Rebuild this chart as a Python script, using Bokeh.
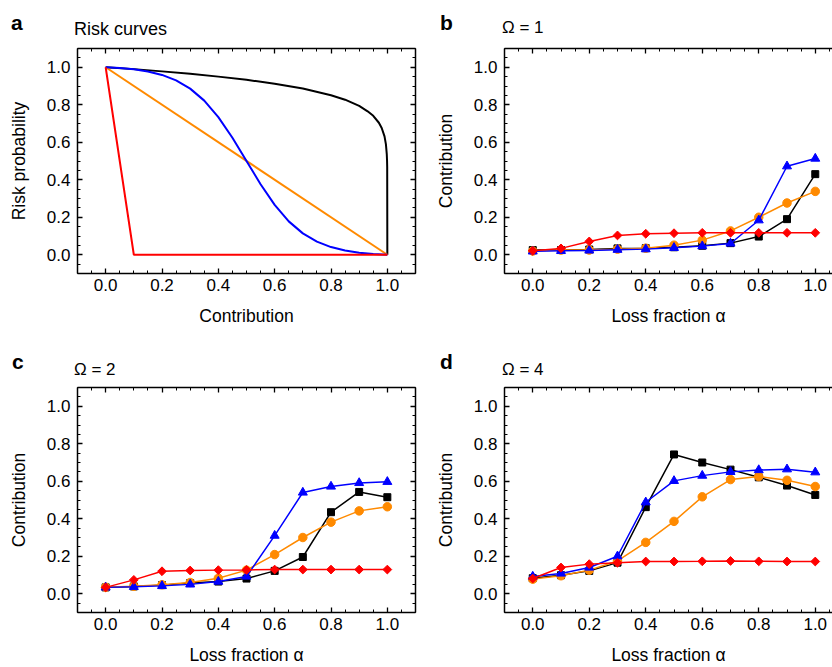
from bokeh.plotting import figure
from bokeh.models import LinearAxis, FixedTicker, Range1d, Div
from bokeh.layouts import column, row
from bokeh.embed import file_html
from bokeh.resources import INLINE
import numpy as np

# ---------------- data ----------------
TICKS = [0.0, 0.2, 0.4, 0.6, 0.8, 1.0]
TICK_LABELS = ["0.0", "0.2", "0.4", "0.6", "0.8", "1.0"]
MINOR_TICKS = [-0.1, -0.05, 0.05, 0.1, 0.15, 0.25, 0.3, 0.35, 0.45, 0.5, 0.55,
               0.65, 0.7, 0.75, 0.85, 0.9, 0.95, 1.05, 1.1]

# panel a: risk curves
A_BLACK_X = [0.0, 0.1, 0.2, 0.3, 0.4, 0.5, 0.6, 0.7, 0.8, 0.85, 0.9, 0.93, 0.95,
             0.97, 0.98, 0.99, 0.995, 0.998, 0.999, 0.9995, 1.0]
A_BLACK_Y = [1.0, 0.99, 0.978, 0.965, 0.95, 0.933, 0.912, 0.887, 0.851, 0.827,
             0.794, 0.765, 0.741, 0.704, 0.676, 0.631, 0.589, 0.537, 0.501, 0.467, 0.0]
A_ORANGE_X = [0.0, 1.0]
A_ORANGE_Y = [1.0, 0.0]
A_BLUE_X = [0.0, 0.05, 0.1, 0.15, 0.2, 0.25, 0.3, 0.35, 0.4, 0.45, 0.5, 0.55, 0.6,
            0.65, 0.7, 0.75, 0.8, 0.85, 0.9, 0.95, 1.0]
A_BLUE_Y = [1.0, 0.996, 0.989, 0.977, 0.959, 0.93, 0.886, 0.822, 0.734, 0.624, 0.5,
            0.376, 0.266, 0.178, 0.114, 0.07, 0.041, 0.023, 0.011, 0.004, 0.0]
A_RED_X = [0.0, 0.1, 1.0]
A_RED_Y = [1.0, 0.0, 0.0]

# panels b-d: contribution vs loss fraction
ALPHA = [0.0, 0.1, 0.2, 0.3, 0.4, 0.5, 0.6, 0.7, 0.8, 0.9, 1.0]

B_BLACK = [0.025, 0.025, 0.028, 0.034, 0.035, 0.040, 0.048, 0.062, 0.097, 0.190, 0.430]
B_ORANGE = [0.020, 0.025, 0.025, 0.030, 0.035, 0.051, 0.078, 0.127, 0.200, 0.276, 0.338]
B_BLUE = [0.018, 0.021, 0.023, 0.027, 0.030, 0.037, 0.046, 0.060, 0.184, 0.472, 0.513]
B_RED = [0.021, 0.034, 0.071, 0.103, 0.112, 0.115, 0.117, 0.117, 0.117, 0.117, 0.117]

C_BLACK = [0.034, 0.039, 0.046, 0.057, 0.065, 0.081, 0.122, 0.196, 0.435, 0.543, 0.515]
C_ORANGE = [0.035, 0.040, 0.048, 0.060, 0.083, 0.126, 0.209, 0.300, 0.382, 0.442, 0.464]
C_BLUE = [0.034, 0.037, 0.042, 0.050, 0.065, 0.092, 0.310, 0.540, 0.572, 0.591, 0.597]
C_RED = [0.034, 0.074, 0.120, 0.124, 0.126, 0.127, 0.129, 0.129, 0.129, 0.129, 0.129]

D_BLACK = [0.083, 0.099, 0.122, 0.166, 0.462, 0.743, 0.700, 0.662, 0.621, 0.577, 0.527]
D_ORANGE = [0.078, 0.096, 0.126, 0.175, 0.274, 0.386, 0.517, 0.609, 0.625, 0.605, 0.572]
D_BLUE = [0.092, 0.108, 0.140, 0.200, 0.488, 0.602, 0.630, 0.650, 0.660, 0.664, 0.648]
D_RED = [0.081, 0.140, 0.158, 0.165, 0.172, 0.172, 0.173, 0.175, 0.173, 0.172, 0.172]

BLACK = "#000000"
ORANGE = "#FF8A00"
BLUE = "#0000FF"
RED = "#FF0000"
FONT = "Liberation Sans"

FRAME_H = 225
Y0, Y1 = -0.1, 1.1


def style_axis(ax, labels=True, standoff=7):
    ax.ticker = FixedTicker(ticks=TICKS, minor_ticks=MINOR_TICKS)
    ax.major_label_overrides = {t: l for t, l in zip(TICKS, TICK_LABELS)}
    ax.axis_line_width = 1.5
    ax.axis_line_color = "black"
    ax.major_tick_in = 5
    ax.major_tick_out = 0
    ax.minor_tick_in = 3
    ax.minor_tick_out = 0
    ax.major_tick_line_width = 1.3
    ax.minor_tick_line_width = 1.0
    ax.major_tick_line_color = "black"
    ax.minor_tick_line_color = "black"
    ax.major_label_text_font = FONT
    ax.major_label_text_font_size = "17px"
    ax.major_label_text_color = "black"
    ax.major_label_standoff = standoff
    ax.axis_label_text_font = FONT
    ax.axis_label_text_font_size = "17.5px"
    ax.axis_label_text_font_style = "normal"
    ax.axis_label_text_color = "black"
    if not labels:
        ax.major_label_text_font_size = "0px"
        ax.major_label_text_color = None
        ax.major_label_standoff = 0


def header(width, height, letter, lx, ltop, title, tx, ttop, tsize):
    html = (
        f'<div style="position:relative;width:{width}px;height:{height}px;overflow:visible;">'
        f'<span style="position:absolute;left:{lx}px;top:{ltop}px;font-family:\'Liberation Sans\';'
        f'font-size:21px;font-weight:bold;line-height:1;color:#000;">{letter}</span>'
        f'<span style="position:absolute;left:{tx}px;top:{ttop}px;font-family:\'Liberation Sans\';'
        f'font-size:{tsize}px;line-height:1;color:#000;white-space:nowrap;">{title}</span></div>'
    )
    return Div(text=html, width=width, height=height, margin=(0, 0, 0, 0))


def make_panel(width, height, border_left, border_right, border_top, x_end,
               xlabel, ylabel, right_axis=True):
    border_bottom = height - border_top - FRAME_H
    p = figure(width=width, height=height,
               x_range=Range1d(-0.1, x_end), y_range=Range1d(Y0, Y1),
               output_backend="svg", toolbar_location=None,
               min_border_left=border_left, min_border_right=border_right,
               min_border_top=border_top, min_border_bottom=border_bottom,
               margin=(0, 0, 0, 0))
    p.outline_line_color = None
    p.xgrid.visible = False
    p.ygrid.visible = False
    p.background_fill_color = "white"
    p.border_fill_color = "white"
    style_axis(p.xaxis[0], standoff=5)
    style_axis(p.yaxis[0], standoff=7)
    p.xaxis[0].axis_label = xlabel
    p.yaxis[0].axis_label = ylabel
    p.xaxis[0].axis_label_standoff = 12
    p.yaxis[0].axis_label_standoff = 15
    top = LinearAxis()
    style_axis(top, labels=False)
    p.add_layout(top, "above")
    if right_axis:
        rt = LinearAxis()
        style_axis(rt, labels=False)
        p.add_layout(rt, "right")
    return p


def add_series(p, ys_list):
    black, orange, blue, red = ys_list
    p.line(ALPHA, black, line_color=BLACK, line_width=1.5)
    p.scatter(ALPHA, black, marker="square", size=7, fill_color=BLACK, line_color=BLACK)
    p.line(ALPHA, orange, line_color=ORANGE, line_width=1.5)
    p.scatter(ALPHA, orange, marker="circle", size=8.5, fill_color=ORANGE, line_color=ORANGE)
    p.line(ALPHA, blue, line_color=BLUE, line_width=1.5)
    p.scatter(ALPHA, blue, marker="triangle", size=9, fill_color=BLUE, line_color=BLUE)
    p.line(ALPHA, red, line_color=RED, line_width=1.5)
    p.scatter(ALPHA, red, marker="square", angle=np.pi / 4, size=6.2,
              fill_color=RED, line_color=RED)


# ---------------- row 1 ----------------
ha = header(420, 40, "a", 11, 12, "Risk curves", 74, 20, 18)
pa = make_panel(420, 290, 77, 5, 8, 1.1, "Contribution", "Risk probability")
pa.line(A_BLACK_X, A_BLACK_Y, line_color=BLACK, line_width=2)
pa.line(A_ORANGE_X, A_ORANGE_Y, line_color=ORANGE, line_width=2)
pa.line(A_BLUE_X, A_BLUE_Y, line_color=BLUE, line_width=2)
pa.line(A_RED_X, A_RED_Y, line_color=RED, line_width=2)

hb = header(412, 40, "b", 20, 12, "Ω = 1", 82, 19, 17)
pb = make_panel(412, 290, 84, 0, 8, 1.061, "Loss fraction α", "Contribution",
                right_axis=False)
add_series(pb, [B_BLACK, B_ORANGE, B_BLUE, B_RED])

# ---------------- row 2 ----------------
hc = header(420, 49, "c", 12, 21, "Ω = 2", 74, 31, 17)
pc = make_panel(420, 288, 77, 5, 8, 1.1, "Loss fraction α", "Contribution")
add_series(pc, [C_BLACK, C_ORANGE, C_BLUE, C_RED])

hd = header(412, 49, "d", 20, 21, "Ω = 4", 82, 31, 17)
pd = make_panel(412, 288, 84, 0, 8, 1.061, "Loss fraction α", "Contribution",
                right_axis=False)
add_series(pd, [D_BLACK, D_ORANGE, D_BLUE, D_RED])

layout = column(
    row(column(ha, pa, spacing=0), column(hb, pb, spacing=0), spacing=0),
    row(column(hc, pc, spacing=0), column(hd, pd, spacing=0), spacing=0),
    spacing=0,
)
open("out.html", "w").write(file_html(layout, INLINE))
